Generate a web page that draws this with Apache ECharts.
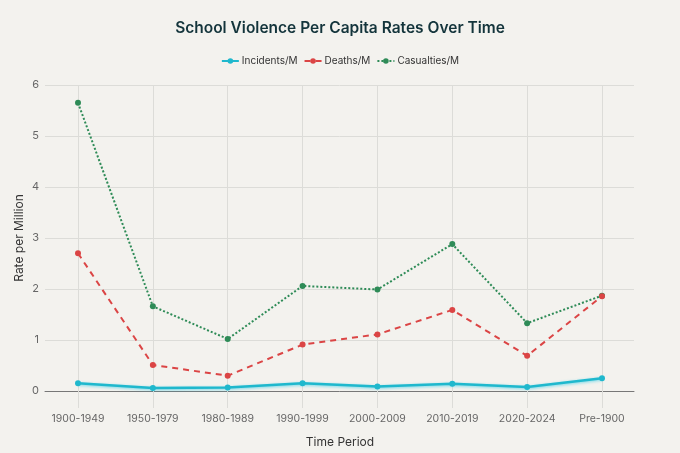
<!DOCTYPE html>
<html>
<head>
<meta charset="utf-8">
<script src="https://cdn.jsdelivr.net/npm/echarts@6/dist/echarts.min.js"></script>
<style>
  html, body { margin: 0; padding: 0; background: #f3f2ee; }
  #main { width: 680px; height: 453px; }
</style>
</head>
<body>
<div id="main"></div>
<script>
var periods = ['1900-1949', '1950-1979', '1980-1989', '1990-1999', '2000-2009', '2010-2019', '2020-2024', 'Pre-1900'];
var incidents = [0.15, 0.06, 0.07, 0.15, 0.09, 0.14, 0.08, 0.25];
var deaths = [2.70, 0.51, 0.30, 0.91, 1.11, 1.59, 0.69, 1.86];
var casualties = [5.65, 1.66, 1.02, 2.06, 1.99, 2.88, 1.33, 1.87];
var yTicks = [0, 1, 2, 3, 4, 5, 6];

var fontFam = 'Inter, "Liberation Sans", sans-serif';
var gridColor = '#dcdcd8';

var myChart = echarts.init(document.getElementById('main'));

var option = {
    backgroundColor: '#f3f2ee',
    textStyle: { fontFamily: fontFam },
    title: {
        text: 'School Violence Per Capita Rates Over Time',
        left: 'center',
        top: 15,
        textStyle: { fontSize: 15.5, fontWeight: 600, color: '#13343b', fontFamily: fontFam }
    },
    legend: {
        top: 51,
        left: 'center',
        itemWidth: 17,
        itemHeight: 7,
        itemGap: 6,
        textStyle: { fontSize: 10, color: '#333', fontFamily: fontFam, padding: [0, 0, 0, -2] },
        data: ['Incidents/M', 'Deaths/M', 'Casualties/M']
    },
    grid: [
        { left: 45, right: 46, top: 85, bottom: 62, outerBoundsMode: 'none' },
        { left: 78, right: 78, top: 85, bottom: 62, outerBoundsMode: 'none' }
    ],
    xAxis: [
        {
            gridIndex: 0,
            type: 'value',
            min: 0,
            max: 1,
            axisLine: { show: true, onZero: false, lineStyle: { color: '#777', width: 1 } },
            axisTick: { show: false },
            axisLabel: { show: false },
            splitLine: { show: false }
        },
        {
            gridIndex: 1,
            type: 'category',
            data: periods,
            boundaryGap: false,
            name: 'Time Period',
            nameLocation: 'middle',
            nameGap: 45,
            nameTextStyle: { fontSize: 12, color: '#333' },
            axisLine: { show: false },
            axisTick: { show: true, length: 17, lineStyle: { color: gridColor } },
            axisLabel: { margin: 22, fontSize: 10.5, color: '#666' },
            splitLine: { show: true, lineStyle: { color: gridColor, width: 1 } }
        }
    ],
    yAxis: [
        {
            gridIndex: 0,
            type: 'value',
            min: yTicks[0],
            max: yTicks[yTicks.length - 1],
            interval: 1,
            name: 'Rate per Million',
            nameLocation: 'middle',
            nameGap: 20,
            nameMoveOverlap: false,
            nameTextStyle: { fontSize: 12, color: '#333' },
            axisLine: { show: false },
            axisTick: { show: false },
            axisLabel: { margin: 6, fontSize: 11, color: '#666' },
            splitLine: { show: true, lineStyle: { color: gridColor, width: 1 } }
        },
        {
            gridIndex: 1,
            type: 'value',
            min: yTicks[0],
            max: yTicks[yTicks.length - 1],
            interval: 1,
            show: false,
            splitLine: { show: false }
        }
    ],
    series: [
        {
            name: 'Incidents/M',
            type: 'line',
            xAxisIndex: 1,
            yAxisIndex: 1,
            data: incidents,
            symbol: 'circle',
            symbolSize: 6,
            color: '#1FB8CD',
            lineStyle: { width: 2.5, color: '#1FB8CD', shadowColor: 'rgba(31,200,230,0.6)', shadowBlur: 3, shadowOffsetY: 1 },
            itemStyle: { color: '#1FB8CD' },
            z: 4
        },
        {
            name: 'Deaths/M',
            type: 'line',
            xAxisIndex: 1,
            yAxisIndex: 1,
            data: deaths,
            symbol: 'circle',
            symbolSize: 6,
            color: '#DB4545',
            lineStyle: { width: 2, type: [6, 5], color: '#DB4545' },
            itemStyle: { color: '#DB4545' },
            z: 3
        },
        {
            name: 'Casualties/M',
            type: 'line',
            xAxisIndex: 1,
            yAxisIndex: 1,
            data: casualties,
            symbol: 'circle',
            symbolSize: 6,
            color: '#2E8B57',
            lineStyle: { width: 2, type: [2, 2], color: '#2E8B57' },
            itemStyle: { color: '#2E8B57' },
            z: 2
        }
    ]
};

myChart.setOption(option);
</script>
</body>
</html>
